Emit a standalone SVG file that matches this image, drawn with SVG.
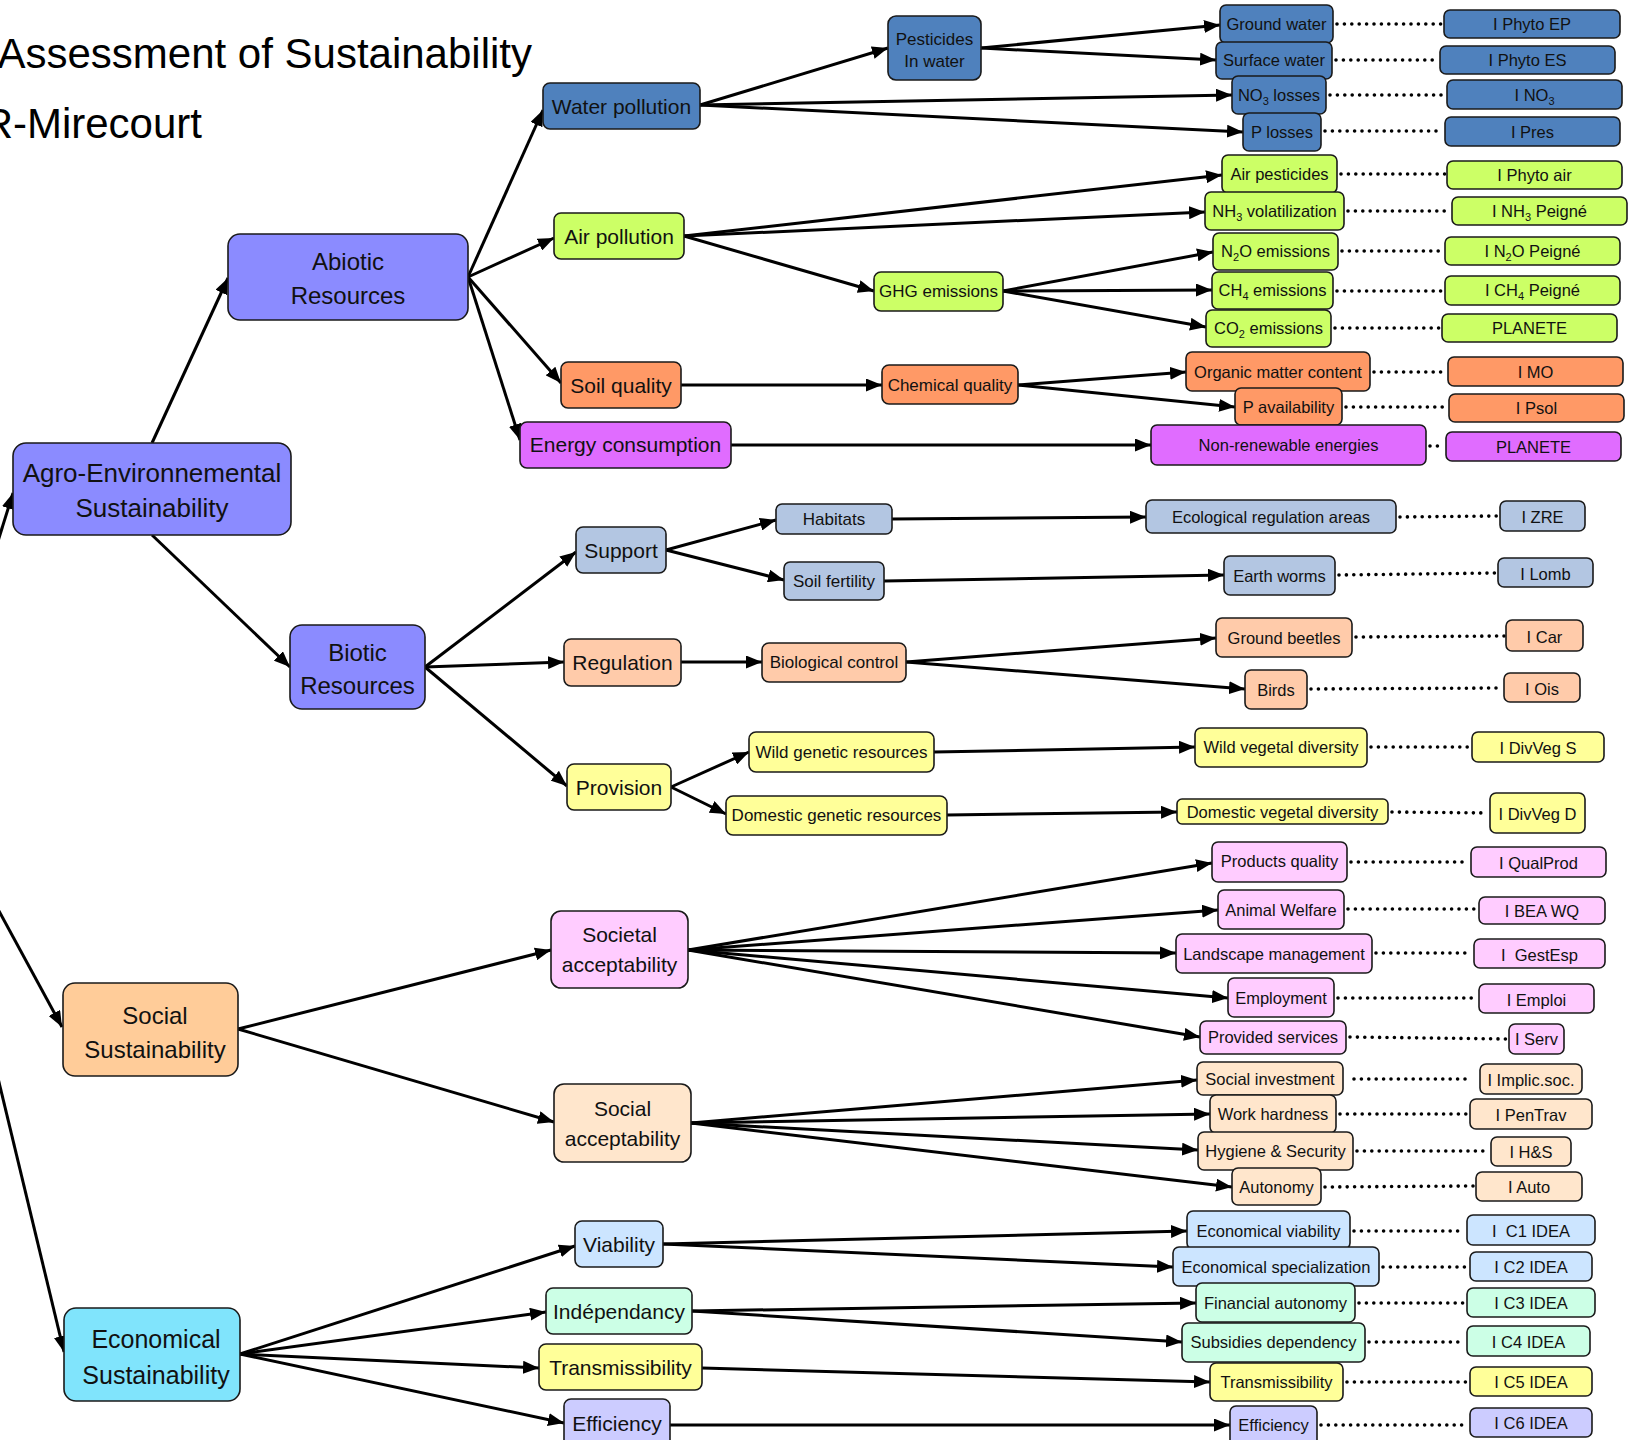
<svg xmlns="http://www.w3.org/2000/svg" width="1633" height="1440" viewBox="0 0 1633 1440">
  <defs>
    <marker id="arrow" markerUnits="userSpaceOnUse" markerWidth="17" markerHeight="13" refX="16" refY="6.5" orient="auto">
      <path d="M0,0 L16,6.5 L0,13 z" fill="#000"/>
    </marker>
    <style>
      text { font-family: "Liberation Sans", Arial, sans-serif; fill: #111; text-anchor: middle; }
      .title { font-size: 42px; fill: #000; text-anchor: end; }
      .t-top { font-size: 24px; }
      .t-mid { font-size: 21px; }
      .t-sub { font-size: 17px; }
      .t-ind { font-size: 16.5px; }
      .sb { font-size: 11px; }
      .node rect { stroke: #1a1a1a; stroke-width: 1.6; }
      .edges line { stroke: #000; stroke-width: 3; marker-end: url(#arrow); }
      .dots line { stroke: #000; stroke-width: 3.6; stroke-linecap: round; stroke-dasharray: 0 7.4; }
      .c-peri { fill: #8B8BFF; }
      .c-water { fill: #4F81BD; }
      .c-air { fill: #CCFF66; }
      .c-soil { fill: #FF9966; }
      .c-energy { fill: #E06CFF; }
      .c-support { fill: #B3C6E2; }
      .c-reg { fill: #FFCBAA; }
      .c-yellow { fill: #FFFF99; }
      .c-pink { fill: #FFCCFF; }
      .c-bisque { fill: #FFE6CC; }
      .c-social { fill: #FFCC99; }
      .c-econ { fill: #80E4FC; }
      .c-lblue { fill: #CCE5FF; }
      .c-mint { fill: #CCFFE6; }
      .c-lav { fill: #CCCCFF; }
    </style>
  </defs>

  <rect width="1633" height="1440" fill="#fff"/>

  <!-- heading -->
  <g id="heading">
    <text class="title" x="532" y="68">Assessment of Sustainability</text>
    <text class="title" x="202" y="138">R-Mirecourt</text>
  </g>

  <!-- arrows between levels -->
  <g id="connectors" class="edges">
    <line x1="-75" y1="775" x2="13" y2="493"/>
    <line x1="-75" y1="775" x2="62" y2="1027"/>
    <line x1="-75" y1="775" x2="64" y2="1352"/>
    <line x1="152" y1="443" x2="228" y2="278"/>
    <line x1="152" y1="535" x2="290" y2="667"/>
    <line x1="468" y1="277" x2="543" y2="110"/>
    <line x1="468" y1="277" x2="554" y2="238"/>
    <line x1="468" y1="277" x2="561" y2="383"/>
    <line x1="468" y1="277" x2="520" y2="440"/>
    <line x1="700" y1="105" x2="888" y2="48"/>
    <line x1="700" y1="105" x2="1232" y2="95"/>
    <line x1="700" y1="105" x2="1243" y2="132"/>
    <line x1="981" y1="48" x2="1220" y2="25"/>
    <line x1="981" y1="48" x2="1216" y2="60"/>
    <line x1="684" y1="236" x2="1222" y2="175"/>
    <line x1="684" y1="236" x2="1205" y2="212"/>
    <line x1="684" y1="236" x2="874" y2="291"/>
    <line x1="1003" y1="291" x2="1213" y2="252"/>
    <line x1="1003" y1="291" x2="1212" y2="290"/>
    <line x1="1003" y1="291" x2="1206" y2="327"/>
    <line x1="681" y1="385" x2="882" y2="385"/>
    <line x1="1018" y1="385" x2="1186" y2="372"/>
    <line x1="1018" y1="385" x2="1235" y2="407"/>
    <line x1="731" y1="445" x2="1151" y2="445"/>
    <line x1="425" y1="667" x2="576" y2="552"/>
    <line x1="425" y1="667" x2="564" y2="662"/>
    <line x1="425" y1="667" x2="567" y2="786"/>
    <line x1="666" y1="550" x2="776" y2="520"/>
    <line x1="666" y1="550" x2="784" y2="580"/>
    <line x1="892" y1="519" x2="1146" y2="517"/>
    <line x1="884" y1="581" x2="1224" y2="575"/>
    <line x1="681" y1="662" x2="762" y2="662"/>
    <line x1="906" y1="662" x2="1216" y2="638"/>
    <line x1="906" y1="662" x2="1245" y2="689"/>
    <line x1="671" y1="787" x2="749" y2="752"/>
    <line x1="671" y1="787" x2="726" y2="814"/>
    <line x1="934" y1="752" x2="1195" y2="747"/>
    <line x1="947" y1="815" x2="1177" y2="812"/>
    <line x1="238" y1="1029" x2="551" y2="950"/>
    <line x1="238" y1="1029" x2="554" y2="1122"/>
    <line x1="688" y1="950" x2="1212" y2="863"/>
    <line x1="688" y1="950" x2="1218" y2="910"/>
    <line x1="688" y1="950" x2="1176" y2="953"/>
    <line x1="688" y1="950" x2="1228" y2="998"/>
    <line x1="688" y1="950" x2="1200" y2="1037"/>
    <line x1="691" y1="1123" x2="1197" y2="1080"/>
    <line x1="691" y1="1123" x2="1210" y2="1114"/>
    <line x1="691" y1="1123" x2="1198" y2="1150"/>
    <line x1="691" y1="1123" x2="1232" y2="1187"/>
    <line x1="240" y1="1354" x2="575" y2="1246"/>
    <line x1="240" y1="1354" x2="546" y2="1312"/>
    <line x1="240" y1="1354" x2="539" y2="1368"/>
    <line x1="240" y1="1354" x2="564" y2="1423"/>
    <line x1="663" y1="1244" x2="1187" y2="1231"/>
    <line x1="663" y1="1244" x2="1173" y2="1267"/>
    <line x1="692" y1="1311" x2="1196" y2="1303"/>
    <line x1="692" y1="1311" x2="1182" y2="1342"/>
    <line x1="702" y1="1368" x2="1210" y2="1382"/>
    <line x1="670" y1="1425" x2="1230" y2="1425"/>
  </g>

  <!-- dotted links from indicators to their index -->
  <g id="indicator-links" class="dots">
    <line x1="1337" y1="24" x2="1442" y2="24"/>
    <line x1="1336" y1="60" x2="1438" y2="60"/>
    <line x1="1330" y1="95" x2="1445" y2="95"/>
    <line x1="1325" y1="131" x2="1443" y2="131"/>
    <line x1="1341" y1="174" x2="1445" y2="174"/>
    <line x1="1348" y1="211" x2="1450" y2="211"/>
    <line x1="1342" y1="251" x2="1443" y2="251"/>
    <line x1="1337" y1="291" x2="1443" y2="291"/>
    <line x1="1335" y1="328" x2="1440" y2="328"/>
    <line x1="1374" y1="372" x2="1446" y2="372"/>
    <line x1="1346" y1="407" x2="1447" y2="407"/>
    <line x1="1430" y1="446" x2="1444" y2="446"/>
    <line x1="1400" y1="517" x2="1498" y2="516"/>
    <line x1="1339" y1="575" x2="1496" y2="573"/>
    <line x1="1356" y1="637" x2="1504" y2="636"/>
    <line x1="1311" y1="689" x2="1502" y2="688"/>
    <line x1="1371" y1="747" x2="1470" y2="747"/>
    <line x1="1392" y1="812" x2="1488" y2="813"/>
    <line x1="1351" y1="862" x2="1469" y2="862"/>
    <line x1="1348" y1="909" x2="1477" y2="909"/>
    <line x1="1376" y1="953" x2="1472" y2="953"/>
    <line x1="1338" y1="998" x2="1477" y2="998"/>
    <line x1="1350" y1="1037" x2="1507" y2="1039"/>
    <line x1="1354" y1="1079" x2="1470" y2="1079"/>
    <line x1="1340" y1="1114" x2="1468" y2="1114"/>
    <line x1="1357" y1="1151" x2="1489" y2="1151"/>
    <line x1="1325" y1="1187" x2="1474" y2="1186"/>
    <line x1="1354" y1="1231" x2="1465" y2="1231"/>
    <line x1="1383" y1="1267" x2="1468" y2="1267"/>
    <line x1="1359" y1="1303" x2="1465" y2="1303"/>
    <line x1="1369" y1="1342" x2="1465" y2="1342"/>
    <line x1="1347" y1="1382" x2="1468" y2="1382"/>
    <line x1="1321" y1="1425" x2="1468" y2="1425"/>
  </g>

  <!-- top-level pillars -->
  <g id="agro" class="node"><rect class="c-peri" x="13" y="443" width="278" height="92" rx="13"/>
    <text class="t-top" x="152" y="482" style="font-size:26px">Agro-Environnemental</text>
    <text class="t-top" x="152" y="517" style="font-size:26px">Sustainability</text></g>
  <g id="abiotic" class="node"><rect class="c-peri" x="228" y="234" width="240" height="86" rx="12"/>
    <text class="t-top" x="348" y="270">Abiotic</text>
    <text class="t-top" x="348" y="304">Resources</text></g>
  <g id="biotic" class="node"><rect class="c-peri" x="290" y="625" width="135" height="84" rx="12"/>
    <text class="t-top" x="357.5" y="661">Biotic</text>
    <text class="t-top" x="357.5" y="694">Resources</text></g>
  <g id="social" class="node"><rect class="c-social" x="63" y="983" width="175" height="93" rx="12"/>
    <text class="t-top" x="155" y="1024">Social</text>
    <text class="t-top" x="155" y="1058">Sustainability</text></g>
  <g id="economical" class="node"><rect class="c-econ" x="64" y="1308" width="176" height="93" rx="12"/>
    <text class="t-top" x="156" y="1348" style="font-size:25px">Economical</text>
    <text class="t-top" x="156" y="1384" style="font-size:25px">Sustainability</text></g>

  <!-- themes -->
  <g id="water" class="node"><rect class="c-water" x="543" y="83" width="157" height="46" rx="7"/>
    <text class="t-mid" x="621.5" y="114">Water pollution</text></g>
  <g id="air" class="node"><rect class="c-air" x="554" y="213" width="130" height="46" rx="7"/>
    <text class="t-mid" x="619" y="244">Air pollution</text></g>
  <g id="soil" class="node"><rect class="c-soil" x="561" y="362" width="120" height="46" rx="7"/>
    <text class="t-mid" x="621" y="393">Soil quality</text></g>
  <g id="energy" class="node"><rect class="c-energy" x="520" y="422" width="211" height="46" rx="7"/>
    <text class="t-mid" x="625.5" y="452">Energy consumption</text></g>
  <g id="support" class="node"><rect class="c-support" x="576" y="527" width="90" height="46" rx="7"/>
    <text class="t-mid" x="621" y="558">Support</text></g>
  <g id="regulation" class="node"><rect class="c-reg" x="564" y="639" width="117" height="47" rx="7"/>
    <text class="t-mid" x="622.5" y="670">Regulation</text></g>
  <g id="provision" class="node"><rect class="c-yellow" x="567" y="764" width="104" height="46" rx="7"/>
    <text class="t-mid" x="619" y="795">Provision</text></g>
  <g id="societal" class="node"><rect class="c-pink" x="551" y="911" width="137" height="77" rx="10"/>
    <text class="t-mid" x="619.5" y="942">Societal</text>
    <text class="t-mid" x="619.5" y="972">acceptability</text></g>
  <g id="social-acc" class="node"><rect class="c-bisque" x="554" y="1084" width="137" height="78" rx="10"/>
    <text class="t-mid" x="622.5" y="1116">Social</text>
    <text class="t-mid" x="622.5" y="1146">acceptability</text></g>
  <g id="viability" class="node"><rect class="c-lblue" x="575" y="1221" width="88" height="46" rx="7"/>
    <text class="t-mid" x="619" y="1252">Viability</text></g>
  <g id="independancy" class="node"><rect class="c-mint" x="546" y="1288" width="146" height="46" rx="7"/>
    <text class="t-mid" x="619" y="1319">Indépendancy</text></g>
  <g id="transmissibility" class="node"><rect class="c-yellow" x="539" y="1344" width="163" height="46" rx="7"/>
    <text class="t-mid" x="620.5" y="1375">Transmissibility</text></g>
  <g id="efficiency" class="node"><rect class="c-lav" x="564" y="1399" width="106" height="50" rx="7"/>
    <text class="t-mid" x="617" y="1431">Efficiency</text></g>

  <!-- sub-themes -->
  <g id="pesticides" class="node"><rect class="c-water" x="888" y="16" width="93" height="64" rx="8"/>
    <text class="t-sub" x="934.5" y="45">Pesticides</text>
    <text class="t-sub" x="934.5" y="67">In water</text></g>
  <g id="ghg" class="node"><rect class="c-air" x="874" y="272" width="129" height="39" rx="7"/>
    <text class="t-sub" x="938.5" y="297">GHG emissions</text></g>
  <g id="chemical" class="node"><rect class="c-soil" x="882" y="365" width="136" height="39" rx="7"/>
    <text class="t-sub" x="950" y="391">Chemical quality</text></g>
  <g id="habitats" class="node"><rect class="c-support" x="776" y="504" width="116" height="30" rx="6"/>
    <text class="t-sub" x="834" y="525">Habitats</text></g>
  <g id="soil-fertility" class="node"><rect class="c-support" x="784" y="562" width="100" height="38" rx="6"/>
    <text class="t-sub" x="834" y="587">Soil fertility</text></g>
  <g id="bio-control" class="node"><rect class="c-reg" x="762" y="643" width="144" height="39" rx="7"/>
    <text class="t-sub" x="834" y="668">Biological control</text></g>
  <g id="wild-genetic" class="node"><rect class="c-yellow" x="749" y="732" width="185" height="40" rx="7"/>
    <text class="t-sub" x="841.5" y="758">Wild genetic resources</text></g>
  <g id="domestic-genetic" class="node"><rect class="c-yellow" x="726" y="796" width="221" height="39" rx="7"/>
    <text class="t-sub" x="836.5" y="821">Domestic genetic resources</text></g>

  <!-- indicators -->
  <g id="ground-water" class="node"><rect class="c-water" x="1220" y="5" width="113" height="38" rx="6"/>
    <text class="t-ind" x="1276.5" y="30">Ground water</text></g>
  <g id="surface-water" class="node"><rect class="c-water" x="1216" y="42" width="116" height="37" rx="6"/>
    <text class="t-ind" x="1274" y="66">Surface water</text></g>
  <g id="no3-losses" class="node"><rect class="c-water" x="1232" y="76" width="94" height="38" rx="6"/>
    <text class="t-ind" x="1279" y="101">NO<tspan class="sb" dy="4">3</tspan><tspan dy="-4"> losses</tspan></text></g>
  <g id="p-losses" class="node"><rect class="c-water" x="1243" y="113" width="78" height="38" rx="6"/>
    <text class="t-ind" x="1282" y="138">P losses</text></g>
  <g id="air-pesticides" class="node"><rect class="c-air" x="1222" y="155" width="115" height="38" rx="6"/>
    <text class="t-ind" x="1279.5" y="180">Air pesticides</text></g>
  <g id="nh3" class="node"><rect class="c-air" x="1205" y="192" width="139" height="38" rx="6"/>
    <text class="t-ind" x="1274.5" y="217">NH<tspan class="sb" dy="4">3</tspan><tspan dy="-4"> volatilization</tspan></text></g>
  <g id="n2o" class="node"><rect class="c-air" x="1213" y="233" width="125" height="37" rx="6"/>
    <text class="t-ind" x="1275.5" y="257">N<tspan class="sb" dy="4">2</tspan><tspan dy="-4">O emissions</tspan></text></g>
  <g id="ch4" class="node"><rect class="c-air" x="1212" y="272" width="121" height="37" rx="6"/>
    <text class="t-ind" x="1272.5" y="296">CH<tspan class="sb" dy="4">4</tspan><tspan dy="-4"> emissions</tspan></text></g>
  <g id="co2" class="node"><rect class="c-air" x="1206" y="310" width="125" height="37" rx="6"/>
    <text class="t-ind" x="1268.5" y="334">CO<tspan class="sb" dy="4">2</tspan><tspan dy="-4"> emissions</tspan></text></g>
  <g id="organic-matter" class="node"><rect class="c-soil" x="1186" y="352" width="184" height="39" rx="6"/>
    <text class="t-ind" x="1278" y="378">Organic matter content</text></g>
  <g id="p-availability" class="node"><rect class="c-soil" x="1235" y="388" width="107" height="37" rx="6"/>
    <text class="t-ind" x="1288.5" y="413">P availability</text></g>
  <g id="non-renewable" class="node"><rect class="c-energy" x="1151" y="425" width="275" height="40" rx="6"/>
    <text class="t-ind" x="1288.5" y="451">Non-renewable energies</text></g>
  <g id="eco-regulation" class="node"><rect class="c-support" x="1146" y="500" width="250" height="33" rx="6"/>
    <text class="t-ind" x="1271" y="523">Ecological regulation areas</text></g>
  <g id="earth-worms" class="node"><rect class="c-support" x="1224" y="556" width="111" height="39" rx="6"/>
    <text class="t-ind" x="1279.5" y="582">Earth worms</text></g>
  <g id="ground-beetles" class="node"><rect class="c-reg" x="1216" y="618" width="136" height="39" rx="6"/>
    <text class="t-ind" x="1284" y="644">Ground beetles</text></g>
  <g id="birds" class="node"><rect class="c-reg" x="1245" y="670" width="62" height="39" rx="6"/>
    <text class="t-ind" x="1276" y="696">Birds</text></g>
  <g id="wild-vegetal" class="node"><rect class="c-yellow" x="1195" y="728" width="172" height="39" rx="6"/>
    <text class="t-ind" x="1281" y="753">Wild vegetal diversity</text></g>
  <g id="domestic-vegetal" class="node"><rect class="c-yellow" x="1177" y="799" width="211" height="25" rx="5"/>
    <text class="t-ind" x="1282.5" y="818">Domestic vegetal diversity</text></g>
  <g id="products-quality" class="node"><rect class="c-pink" x="1212" y="842" width="135" height="40" rx="6"/>
    <text class="t-ind" x="1279.5" y="867">Products quality</text></g>
  <g id="animal-welfare" class="node"><rect class="c-pink" x="1218" y="890" width="126" height="39" rx="6"/>
    <text class="t-ind" x="1281" y="916">Animal Welfare</text></g>
  <g id="landscape" class="node"><rect class="c-pink" x="1176" y="934" width="196" height="39" rx="6"/>
    <text class="t-ind" x="1274" y="960">Landscape management</text></g>
  <g id="employment" class="node"><rect class="c-pink" x="1228" y="978" width="106" height="39" rx="6"/>
    <text class="t-ind" x="1281" y="1004">Employment</text></g>
  <g id="provided-services" class="node"><rect class="c-pink" x="1200" y="1021" width="146" height="33" rx="6"/>
    <text class="t-ind" x="1273" y="1043">Provided services</text></g>
  <g id="social-investment" class="node"><rect class="c-bisque" x="1197" y="1062" width="146" height="33" rx="6"/>
    <text class="t-ind" x="1270" y="1085">Social investment</text></g>
  <g id="work-hardness" class="node"><rect class="c-bisque" x="1210" y="1095" width="126" height="38" rx="6"/>
    <text class="t-ind" x="1273" y="1120">Work hardness</text></g>
  <g id="hygiene" class="node"><rect class="c-bisque" x="1198" y="1132" width="155" height="38" rx="6"/>
    <text class="t-ind" x="1275.5" y="1157">Hygiene &amp; Security</text></g>
  <g id="autonomy" class="node"><rect class="c-bisque" x="1232" y="1168" width="89" height="37" rx="6"/>
    <text class="t-ind" x="1276.5" y="1193">Autonomy</text></g>
  <g id="econ-viability" class="node"><rect class="c-lblue" x="1187" y="1211" width="163" height="38" rx="6"/>
    <text class="t-ind" x="1268.5" y="1237">Economical viability</text></g>
  <g id="econ-specialization" class="node"><rect class="c-lblue" x="1173" y="1247" width="206" height="39" rx="6"/>
    <text class="t-ind" x="1276" y="1273">Economical specialization</text></g>
  <g id="financial-autonomy" class="node"><rect class="c-mint" x="1196" y="1283" width="159" height="39" rx="6"/>
    <text class="t-ind" x="1275.5" y="1309">Financial autonomy</text></g>
  <g id="subsidies" class="node"><rect class="c-mint" x="1182" y="1323" width="183" height="39" rx="6"/>
    <text class="t-ind" x="1273.5" y="1348">Subsidies dependency</text></g>
  <g id="transmissibility-ind" class="node"><rect class="c-yellow" x="1210" y="1363" width="133" height="38" rx="6"/>
    <text class="t-ind" x="1276.5" y="1388">Transmissibility</text></g>
  <g id="efficiency-ind" class="node"><rect class="c-lav" x="1230" y="1406" width="87" height="42" rx="6"/>
    <text class="t-ind" x="1273.5" y="1431">Efficiency</text></g>

  <!-- indices -->
  <g id="i-phyto-ep" class="node"><rect class="c-water" x="1444" y="10" width="176" height="28" rx="6"/>
    <text class="t-ind" x="1532" y="30">I Phyto EP</text></g>
  <g id="i-phyto-es" class="node"><rect class="c-water" x="1440" y="46" width="175" height="28" rx="6"/>
    <text class="t-ind" x="1527.5" y="66">I Phyto ES</text></g>
  <g id="i-no3" class="node"><rect class="c-water" x="1447" y="80" width="175" height="29" rx="6"/>
    <text class="t-ind" x="1534.5" y="101">I NO<tspan class="sb" dy="4">3</tspan></text></g>
  <g id="i-pres" class="node"><rect class="c-water" x="1445" y="117" width="175" height="29" rx="6"/>
    <text class="t-ind" x="1532.5" y="138">I Pres</text></g>
  <g id="i-phyto-air" class="node"><rect class="c-air" x="1447" y="161" width="175" height="28" rx="6"/>
    <text class="t-ind" x="1534.5" y="181">I Phyto air</text></g>
  <g id="i-nh3" class="node"><rect class="c-air" x="1452" y="197" width="175" height="28" rx="6"/>
    <text class="t-ind" x="1539.5" y="217">I NH<tspan class="sb" dy="4">3</tspan><tspan dy="-4"> Peigné</tspan></text></g>
  <g id="i-n2o" class="node"><rect class="c-air" x="1445" y="237" width="175" height="28" rx="6"/>
    <text class="t-ind" x="1532.5" y="257">I N<tspan class="sb" dy="4">2</tspan><tspan dy="-4">O Peigné</tspan></text></g>
  <g id="i-ch4" class="node"><rect class="c-air" x="1445" y="276" width="175" height="29" rx="6"/>
    <text class="t-ind" x="1532.5" y="296">I CH<tspan class="sb" dy="4">4</tspan><tspan dy="-4"> Peigné</tspan></text></g>
  <g id="planete-ghg" class="node"><rect class="c-air" x="1442" y="314" width="175" height="28" rx="6"/>
    <text class="t-ind" x="1529.5" y="334">PLANETE</text></g>
  <g id="i-mo" class="node"><rect class="c-soil" x="1448" y="357" width="175" height="29" rx="6"/>
    <text class="t-ind" x="1535.5" y="378">I MO</text></g>
  <g id="i-psol" class="node"><rect class="c-soil" x="1449" y="394" width="175" height="28" rx="6"/>
    <text class="t-ind" x="1536.5" y="414">I Psol</text></g>
  <g id="planete-energy" class="node"><rect class="c-energy" x="1446" y="432" width="175" height="29" rx="6"/>
    <text class="t-ind" x="1533.5" y="453">PLANETE</text></g>
  <g id="i-zre" class="node"><rect class="c-support" x="1500" y="501" width="85" height="30" rx="6"/>
    <text class="t-ind" x="1542.5" y="523">I ZRE</text></g>
  <g id="i-lomb" class="node"><rect class="c-support" x="1498" y="558" width="95" height="29" rx="6"/>
    <text class="t-ind" x="1545.5" y="580">I Lomb</text></g>
  <g id="i-car" class="node"><rect class="c-reg" x="1506" y="620" width="77" height="31" rx="6"/>
    <text class="t-ind" x="1544.5" y="643">I Car</text></g>
  <g id="i-ois" class="node"><rect class="c-reg" x="1504" y="673" width="76" height="29" rx="6"/>
    <text class="t-ind" x="1542" y="695">I Ois</text></g>
  <g id="i-divveg-s" class="node"><rect class="c-yellow" x="1472" y="732" width="132" height="30" rx="6"/>
    <text class="t-ind" x="1538" y="754">I DivVeg S</text></g>
  <g id="i-divveg-d" class="node"><rect class="c-yellow" x="1490" y="793" width="95" height="40" rx="6"/>
    <text class="t-ind" x="1537.5" y="820">I DivVeg D</text></g>
  <g id="i-qualprod" class="node"><rect class="c-pink" x="1471" y="847" width="135" height="30" rx="6"/>
    <text class="t-ind" x="1538.5" y="869">I QualProd</text></g>
  <g id="i-bea-wq" class="node"><rect class="c-pink" x="1479" y="897" width="126" height="27" rx="6"/>
    <text class="t-ind" x="1542" y="917">I BEA WQ</text></g>
  <g id="i-gestesp" class="node"><rect class="c-pink" x="1474" y="939" width="131" height="29" rx="6"/>
    <text class="t-ind" x="1539.5" y="961" style="white-space:pre">I  GestEsp</text></g>
  <g id="i-emploi" class="node"><rect class="c-pink" x="1479" y="984" width="115" height="29" rx="6"/>
    <text class="t-ind" x="1536.5" y="1006">I Emploi</text></g>
  <g id="i-serv" class="node"><rect class="c-pink" x="1509" y="1024" width="55" height="30" rx="6"/>
    <text class="t-ind" x="1536.5" y="1045">I Serv</text></g>
  <g id="i-implic" class="node"><rect class="c-bisque" x="1480" y="1064" width="102" height="30" rx="6"/>
    <text class="t-ind" x="1531" y="1086">I Implic.soc.</text></g>
  <g id="i-pentrav" class="node"><rect class="c-bisque" x="1470" y="1099" width="122" height="30" rx="6"/>
    <text class="t-ind" x="1531" y="1121">I PenTrav</text></g>
  <g id="i-hs" class="node"><rect class="c-bisque" x="1491" y="1137" width="80" height="29" rx="6"/>
    <text class="t-ind" x="1531" y="1158">I H&amp;S</text></g>
  <g id="i-auto" class="node"><rect class="c-bisque" x="1476" y="1172" width="106" height="29" rx="6"/>
    <text class="t-ind" x="1529" y="1193">I Auto</text></g>
  <g id="i-c1" class="node"><rect class="c-lblue" x="1467" y="1215" width="128" height="30" rx="6"/>
    <text class="t-ind" x="1531" y="1237" style="white-space:pre">I  C1 IDEA</text></g>
  <g id="i-c2" class="node"><rect class="c-lblue" x="1470" y="1252" width="122" height="29" rx="6"/>
    <text class="t-ind" x="1531" y="1273">I C2 IDEA</text></g>
  <g id="i-c3" class="node"><rect class="c-mint" x="1467" y="1288" width="128" height="29" rx="6"/>
    <text class="t-ind" x="1531" y="1309">I C3 IDEA</text></g>
  <g id="i-c4" class="node"><rect class="c-mint" x="1467" y="1326" width="123" height="30" rx="6"/>
    <text class="t-ind" x="1528.5" y="1348">I C4 IDEA</text></g>
  <g id="i-c5" class="node"><rect class="c-yellow" x="1470" y="1367" width="122" height="29" rx="6"/>
    <text class="t-ind" x="1531" y="1388">I C5 IDEA</text></g>
  <g id="i-c6" class="node"><rect class="c-lav" x="1470" y="1408" width="122" height="29" rx="6"/>
    <text class="t-ind" x="1531" y="1429">I C6 IDEA</text></g>
</svg>
